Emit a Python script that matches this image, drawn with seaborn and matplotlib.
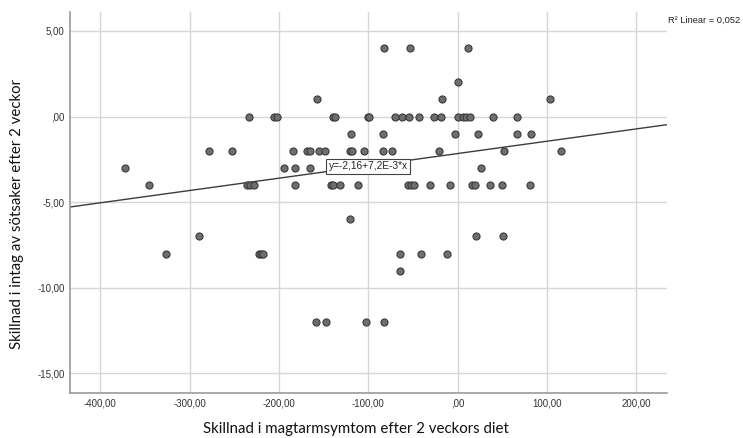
import matplotlib
matplotlib.use('Agg')
import matplotlib.pyplot as plt
import seaborn as sns
import pandas as pd
from matplotlib.ticker import FuncFormatter, MultipleLocator

# ================ data ================

magtarm = [
    -83, -53, 12,
    0,
    -157, -18, 103,
    -234, -205, -202, -140, -137, -100, -99, -70, -62, -55, -43, -27, -19, 0, 6, 9, 14, 39, 66,
    -119, -84, -3, 23, 66, 82,
    -278, -252, -184, -169, -165, -155, -148, -121, -118, -105, -84, -73, -21, 52, 116,
    -372, -194, -182, -165, 26,
    -345, -236, -232, -228, -182, -142, -139, -132, -112, -56, -52, -49, -31, -9, 16, 19, 36, 49, 81,
    -121,
    -289, 21, 51,
    -326, -222, -220, -218, -65, -41, -12,
    -65,
    -159, -147, -103, -83,
]
sotsaker = (
    [4] * 3 + [2] * 1 + [1] * 3 + [0] * 19 + [-1] * 6 + [-2] * 15 + [-3] * 5
    + [-4] * 19 + [-6] * 1 + [-7] * 3 + [-8] * 7 + [-9] * 1 + [-12] * 4
)

intercept = -2.16
slope = 0.0072
r2_text = 'R² Linear = 0,052'
eq_text = 'y=-2,16+7,2E-3*x'

df = pd.DataFrame({'x': magtarm, 'y': sotsaker})

# ================ figure ================

sns.set_style('white')
plt.rcParams['font.family'] = ['Liberation Sans', 'DejaVu Sans']

fig = plt.figure(figsize=(7.43, 4.38), dpi=100)
ax = fig.add_axes([70 / 743, 1 - 392.7 / 438, 596.7 / 743, 380.4 / 438])

sns.scatterplot(data=df, x='x', y='y', ax=ax, s=26, color='#6e6e6e',
                edgecolor='#3a3a3a', linewidth=0.8, zorder=3)
ax.axline((0, intercept), slope=slope, color='#3c3c3c', lw=1.0, zorder=2)

ax.set_xlim(-433.7, 233.8)
ax.set_ylim(-16.13, 6.09)
ax.xaxis.set_major_locator(MultipleLocator(100))
ax.yaxis.set_major_locator(MultipleLocator(5))


def spss_fmt(v, pos=None):
    s = f'{v:.2f}'.replace('.', ',')
    if s.startswith('0,'):
        s = s[1:]
    elif s.startswith('-0,'):
        s = s[2:]
    return s


ax.xaxis.set_major_formatter(FuncFormatter(spss_fmt))
ax.yaxis.set_major_formatter(FuncFormatter(spss_fmt))
ax.tick_params(axis='both', length=0, labelsize=7, colors='#333333', pad=4)

ax.grid(True, color='#d6d6d6', lw=1.0, zorder=0)
ax.set_axisbelow(True)
for side in ['top', 'right']:
    ax.spines[side].set_visible(False)
for side in ['left', 'bottom']:
    ax.spines[side].set_color('#9a9a9a')
    ax.spines[side].set_linewidth(1.2)

ax.set_xlabel('Skillnad i magtarmsymtom efter 2 veckors diet',
              fontsize=10.8, family=['Lato', 'DejaVu Sans'], color='#111111')
ax.set_ylabel('Skillnad i intag av sötsaker efter 2 veckor',
              fontsize=10.8, family=['Lato', 'DejaVu Sans'], color='#111111')
ax.xaxis.set_label_coords(0.479, -0.077)
ax.yaxis.set_label_coords(-0.077, 0.469)

ax.text(0.5, 0.595, eq_text, transform=ax.transAxes, ha='center', va='center',
        fontsize=7.3, color='#222222', zorder=4,
        bbox=dict(boxstyle='square,pad=0.25', fc='white', ec='#444444', lw=0.8))
fig.text(704 / 743, 1 - 20 / 438, r2_text, ha='center', va='center',
         fontsize=6.7, color='#222222')

fig.savefig('out.png', dpi=100)
